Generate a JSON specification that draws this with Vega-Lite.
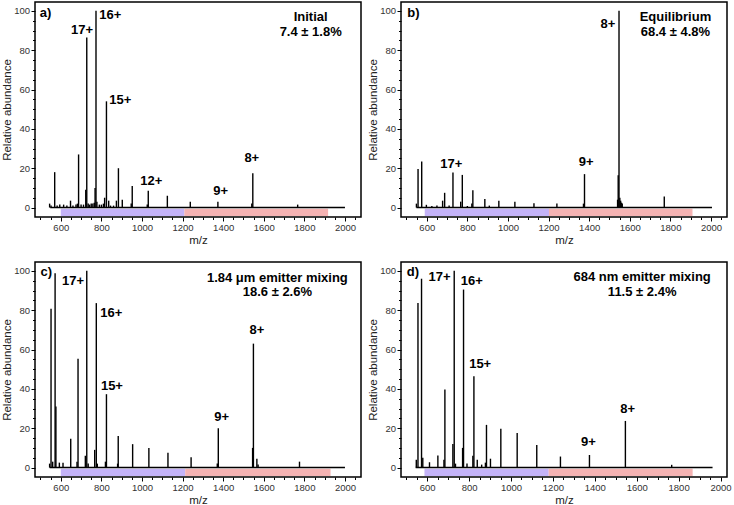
{
  "$schema": "https://vega.github.io/schema/vega-lite/v6.json",
  "padding": {"left": 0, "top": 1, "right": 0, "bottom": 0},
  "config": {
    "view": {"stroke": "black", "strokeWidth": 1.5},
    "axis": {"grid": false, "domain": false, "offset": 0, "tickColor": "black", "tickWidth": 1, "labelColor": "#333", "labelFont": "Liberation Sans", "labelFontSize": 9.5, "titleFont": "Liberation Sans", "titleFontSize": 11.5, "titleFontWeight": "normal", "titleColor": "#222", "labelPadding": 1.5},
    "text": {"font": "Liberation Sans", "fontWeight": "bold", "fontSize": 13, "baseline": "middle", "color": "black"}
  },
  "datasets": {
    "peaks": [
      {"panel": "a", "mz": 545, "abundance": 2}, {"panel": "a", "mz": 552, "abundance": 1}, {"panel": "a", "mz": 570, "abundance": 18}, {"panel": "a", "mz": 582, "abundance": 1}, {"panel": "a", "mz": 595, "abundance": 1.5}, {"panel": "a", "mz": 614, "abundance": 1.5}, {"panel": "a", "mz": 630, "abundance": 1}, {"panel": "a", "mz": 648, "abundance": 3.5}, {"panel": "a", "mz": 660, "abundance": 1}, {"panel": "a", "mz": 675, "abundance": 1.5}, {"panel": "a", "mz": 682, "abundance": 2}, {"panel": "a", "mz": 687.7, "abundance": 27}, {"panel": "a", "mz": 700, "abundance": 1.5}, {"panel": "a", "mz": 712, "abundance": 1.5}, {"panel": "a", "mz": 723, "abundance": 9}, {"panel": "a", "mz": 728, "abundance": 86.5}, {"panel": "a", "mz": 735, "abundance": 2}, {"panel": "a", "mz": 742, "abundance": 1.5}, {"panel": "a", "mz": 750, "abundance": 2}, {"panel": "a", "mz": 758, "abundance": 2}, {"panel": "a", "mz": 765, "abundance": 2.5}, {"panel": "a", "mz": 769, "abundance": 10}, {"panel": "a", "mz": 773.5, "abundance": 100}, {"panel": "a", "mz": 778, "abundance": 3}, {"panel": "a", "mz": 790, "abundance": 1.5}, {"panel": "a", "mz": 800, "abundance": 1.5}, {"panel": "a", "mz": 810, "abundance": 2}, {"panel": "a", "mz": 816, "abundance": 5}, {"panel": "a", "mz": 825, "abundance": 54}, {"panel": "a", "mz": 836, "abundance": 3.5}, {"panel": "a", "mz": 845, "abundance": 1}, {"panel": "a", "mz": 860, "abundance": 1}, {"panel": "a", "mz": 874, "abundance": 3.5}, {"panel": "a", "mz": 884, "abundance": 20}, {"panel": "a", "mz": 903, "abundance": 4}, {"panel": "a", "mz": 947, "abundance": 2}, {"panel": "a", "mz": 952, "abundance": 11}, {"panel": "a", "mz": 1026, "abundance": 1.5}, {"panel": "a", "mz": 1031, "abundance": 8.5}, {"panel": "a", "mz": 1125, "abundance": 6}, {"panel": "a", "mz": 1238, "abundance": 3}, {"panel": "a", "mz": 1374, "abundance": 3}, {"panel": "a", "mz": 1541, "abundance": 2}, {"panel": "a", "mz": 1546, "abundance": 17.5}, {"panel": "a", "mz": 1767, "abundance": 1.5},
      {"panel": "b", "mz": 549, "abundance": 2}, {"panel": "b", "mz": 557, "abundance": 19.6}, {"panel": "b", "mz": 575, "abundance": 23.4}, {"panel": "b", "mz": 598, "abundance": 1.4}, {"panel": "b", "mz": 625, "abundance": 0.8}, {"panel": "b", "mz": 650, "abundance": 1}, {"panel": "b", "mz": 678, "abundance": 3.5}, {"panel": "b", "mz": 688, "abundance": 7.5}, {"panel": "b", "mz": 710, "abundance": 1}, {"panel": "b", "mz": 729, "abundance": 17.8}, {"panel": "b", "mz": 767, "abundance": 3}, {"panel": "b", "mz": 775, "abundance": 16.6}, {"panel": "b", "mz": 800, "abundance": 0.8}, {"panel": "b", "mz": 822, "abundance": 2}, {"panel": "b", "mz": 827, "abundance": 8.8}, {"panel": "b", "mz": 886, "abundance": 4.4}, {"panel": "b", "mz": 908, "abundance": 1}, {"panel": "b", "mz": 955, "abundance": 3.5}, {"panel": "b", "mz": 1034, "abundance": 3}, {"panel": "b", "mz": 1128, "abundance": 2.2}, {"panel": "b", "mz": 1241, "abundance": 2}, {"panel": "b", "mz": 1372, "abundance": 2}, {"panel": "b", "mz": 1377, "abundance": 17}, {"panel": "b", "mz": 1540, "abundance": 4}, {"panel": "b", "mz": 1543, "abundance": 16.4}, {"panel": "b", "mz": 1547, "abundance": 100}, {"panel": "b", "mz": 1551, "abundance": 5}, {"panel": "b", "mz": 1555, "abundance": 3.5}, {"panel": "b", "mz": 1559, "abundance": 2.5}, {"panel": "b", "mz": 1563, "abundance": 2}, {"panel": "b", "mz": 1770, "abundance": 5.6},
      {"panel": "c", "mz": 545, "abundance": 2}, {"panel": "c", "mz": 552, "abundance": 80.7}, {"panel": "c", "mz": 560, "abundance": 3}, {"panel": "c", "mz": 572, "abundance": 98.8}, {"panel": "c", "mz": 576, "abundance": 31}, {"panel": "c", "mz": 593, "abundance": 2.5}, {"panel": "c", "mz": 611, "abundance": 2.5}, {"panel": "c", "mz": 649, "abundance": 14.6}, {"panel": "c", "mz": 680, "abundance": 3}, {"panel": "c", "mz": 685, "abundance": 55.3}, {"panel": "c", "mz": 721, "abundance": 6}, {"panel": "c", "mz": 728, "abundance": 100}, {"panel": "c", "mz": 735, "abundance": 2}, {"panel": "c", "mz": 767, "abundance": 9}, {"panel": "c", "mz": 775, "abundance": 83.6}, {"panel": "c", "mz": 780, "abundance": 2}, {"panel": "c", "mz": 820, "abundance": 3}, {"panel": "c", "mz": 825, "abundance": 37.3}, {"panel": "c", "mz": 880, "abundance": 2}, {"panel": "c", "mz": 883, "abundance": 16}, {"panel": "c", "mz": 954, "abundance": 11.9}, {"panel": "c", "mz": 1034, "abundance": 10}, {"panel": "c", "mz": 1128, "abundance": 7.5}, {"panel": "c", "mz": 1242, "abundance": 5.3}, {"panel": "c", "mz": 1371, "abundance": 2}, {"panel": "c", "mz": 1376, "abundance": 20}, {"panel": "c", "mz": 1545, "abundance": 10}, {"panel": "c", "mz": 1549, "abundance": 63}, {"panel": "c", "mz": 1566, "abundance": 4.5}, {"panel": "c", "mz": 1572, "abundance": 1.5}, {"panel": "c", "mz": 1776, "abundance": 3},
      {"panel": "d", "mz": 548, "abundance": 4}, {"panel": "d", "mz": 556, "abundance": 83.7}, {"panel": "d", "mz": 573, "abundance": 96}, {"panel": "d", "mz": 579, "abundance": 5}, {"panel": "d", "mz": 611, "abundance": 2.7}, {"panel": "d", "mz": 651, "abundance": 6.1}, {"panel": "d", "mz": 680, "abundance": 4}, {"panel": "d", "mz": 684.5, "abundance": 39.7}, {"panel": "d", "mz": 722.6, "abundance": 12}, {"panel": "d", "mz": 729, "abundance": 100}, {"panel": "d", "mz": 735, "abundance": 2}, {"panel": "d", "mz": 769, "abundance": 10}, {"panel": "d", "mz": 773.5, "abundance": 90.5}, {"panel": "d", "mz": 790, "abundance": 2}, {"panel": "d", "mz": 818, "abundance": 6}, {"panel": "d", "mz": 823, "abundance": 46.4}, {"panel": "d", "mz": 839, "abundance": 4}, {"panel": "d", "mz": 860, "abundance": 1.5}, {"panel": "d", "mz": 878, "abundance": 2.5}, {"panel": "d", "mz": 883, "abundance": 21.7}, {"panel": "d", "mz": 902, "abundance": 4.5}, {"panel": "d", "mz": 951.5, "abundance": 19.7}, {"panel": "d", "mz": 1029.5, "abundance": 17.6}, {"panel": "d", "mz": 1123, "abundance": 11.5}, {"panel": "d", "mz": 1236, "abundance": 5.6}, {"panel": "d", "mz": 1374.5, "abundance": 6.4}, {"panel": "d", "mz": 1546, "abundance": 23.7}, {"panel": "d", "mz": 1767, "abundance": 1.4}
    ],
    "bands": [
      {"panel": "a", "region": "lower", "start": 600, "end": 1209}, {"panel": "a", "region": "upper", "start": 1209, "end": 1917},
      {"panel": "b", "region": "lower", "start": 590, "end": 1202}, {"panel": "b", "region": "upper", "start": 1202, "end": 1909},
      {"panel": "c", "region": "lower", "start": 600, "end": 1213}, {"panel": "c", "region": "upper", "start": 1213, "end": 1929},
      {"panel": "d", "region": "lower", "start": 587, "end": 1180}, {"panel": "d", "region": "upper", "start": 1180, "end": 1867}
    ],
    "baseline": [
      {"panel": "a", "start": 548, "end": 2000}, {"panel": "b", "start": 549, "end": 2005}, {"panel": "c", "start": 545, "end": 2000}, {"panel": "d", "start": 545, "end": 1962}
    ],
    "labels": [
      {"panel": "a", "mz": 704.6, "y": 90.5, "label": "17+"}, {"panel": "a", "mz": 844, "y": 98, "label": "16+"}, {"panel": "a", "mz": 893, "y": 54.5, "label": "15+"}, {"panel": "a", "mz": 1046, "y": 13.4, "label": "12+"}, {"panel": "a", "mz": 1388, "y": 8.5, "label": "9+"}, {"panel": "a", "mz": 1541, "y": 25, "label": "8+"}, {"panel": "a", "mz": 1831, "y": 96.8, "label": "Initial"}, {"panel": "a", "mz": 1831, "y": 89, "label": "7.4 ± 1.8%"},
      {"panel": "b", "mz": 721, "y": 22.3, "label": "17+"}, {"panel": "b", "mz": 1385, "y": 23, "label": "9+"}, {"panel": "b", "mz": 1492, "y": 93.4, "label": "8+"}, {"panel": "b", "mz": 1825, "y": 96.8, "label": "Equilibrium"}, {"panel": "b", "mz": 1825, "y": 89.2, "label": "68.4 ± 4.8%"},
      {"panel": "c", "mz": 660, "y": 95, "label": "17+"}, {"panel": "c", "mz": 849, "y": 78.5, "label": "16+"}, {"panel": "c", "mz": 852, "y": 41.7, "label": "15+"}, {"panel": "c", "mz": 1393, "y": 25.6, "label": "9+"}, {"panel": "c", "mz": 1566, "y": 69.7, "label": "8+"}, {"panel": "c", "mz": 1667, "y": 96.3, "label": "1.84 μm emitter mixing"}, {"panel": "c", "mz": 1667, "y": 89.2, "label": "18.6 ± 2.6%"},
      {"panel": "d", "mz": 659, "y": 96.8, "label": "17+"}, {"panel": "d", "mz": 813, "y": 95, "label": "16+"}, {"panel": "d", "mz": 853, "y": 52.7, "label": "15+"}, {"panel": "d", "mz": 1370, "y": 12.9, "label": "9+"}, {"panel": "d", "mz": 1557, "y": 30, "label": "8+"}, {"panel": "d", "mz": 1626, "y": 96.8, "label": "684 nm emitter mixing"}, {"panel": "d", "mz": 1626, "y": 89.5, "label": "11.5 ± 2.4%"}
    ],
    "letters": [
      {"panel": "a", "mz": 496, "y": 99, "label": "a)"}, {"panel": "b", "mz": 504, "y": 99, "label": "b)"}, {"panel": "c", "mz": 500, "y": 99.3, "label": "c)"}, {"panel": "d", "mz": 503, "y": 99.3, "label": "d)"}
    ]
  },
  "vconcat": [
    {"hconcat": [
      {"width": 326, "height": 215, "resolve": {"axis": {"x": "independent", "y": "independent"}}, "layer": [
        {"data": {"name": "peaks"}, "transform": [{"filter": "datum.panel === 'a'"}], "mark": {"type": "rule", "color": "black", "strokeWidth": 1.4}, "encoding": {
          "x": {"field": "mz", "type": "quantitative", "scale": {"domain": [473, 2079], "nice": false, "zero": false}, "axis": {"orient": "bottom", "values": [600,800,1000,1200,1400,1600,1800,2000], "format": "d", "tickSize": 4, "title": "m/z", "titlePadding": 2}},
          "y": {"field": "abundance", "type": "quantitative", "scale": {"domain": [-4.8, 104.5], "nice": false, "zero": false}, "axis": {"orient": "left", "values": [0,20,40,60,80,100], "tickSize": 4, "title": "Relative abundance", "titlePadding": 1}},
          "y2": {"datum": 0}}},
        {"data": {"name": "bands"}, "transform": [{"filter": "datum.panel === 'a'"}], "mark": {"type": "rect"}, "encoding": {
          "x": {"field": "start", "type": "quantitative", "scale": {"domain": [473, 2079], "nice": false, "zero": false}, "axis": {"orient": "bottom", "values": [500,550,650,700,750,850,900,950,1050,1100,1150,1250,1300,1350,1450,1500,1550,1650,1700,1750,1850,1900,1950,2050], "labels": false, "tickSize": 2.5, "title": null}},
          "x2": {"field": "end"},
          "y": {"datum": -0.6, "type": "quantitative", "scale": {"domain": [-4.8, 104.5], "nice": false, "zero": false}, "axis": {"orient": "left", "values": [5,10,15,25,30,35,45,50,55,65,70,75,85,90,95], "labels": false, "tickSize": 2.5, "title": null}},
          "y2": {"datum": -4.3},
          "color": {"field": "region", "type": "nominal", "scale": {"domain": ["lower", "upper"], "range": ["#c4b3f8", "#f5b3b3"]}, "legend": null}}},
        {"data": {"name": "baseline"}, "transform": [{"filter": "datum.panel === 'a'"}], "mark": {"type": "rule", "color": "black", "strokeWidth": 1.5}, "encoding": {
          "x": {"field": "start", "type": "quantitative", "scale": {"domain": [473, 2079], "nice": false, "zero": false}, "axis": null}, "x2": {"field": "end"},
          "y": {"datum": 0, "type": "quantitative", "scale": {"domain": [-4.8, 104.5], "nice": false, "zero": false}, "axis": null}}},
        {"data": {"name": "labels"}, "transform": [{"filter": "datum.panel === 'a'"}], "mark": {"type": "text"}, "encoding": {
          "x": {"field": "mz", "type": "quantitative", "scale": {"domain": [473, 2079], "nice": false, "zero": false}, "axis": null},
          "y": {"field": "y", "type": "quantitative", "scale": {"domain": [-4.8, 104.5], "nice": false, "zero": false}, "axis": null},
          "text": {"field": "label"}}},
        {"data": {"name": "letters"}, "transform": [{"filter": "datum.panel === 'a'"}], "mark": {"type": "text", "align": "left"}, "encoding": {
          "x": {"field": "mz", "type": "quantitative", "scale": {"domain": [473, 2079], "nice": false, "zero": false}, "axis": null},
          "y": {"field": "y", "type": "quantitative", "scale": {"domain": [-4.8, 104.5], "nice": false, "zero": false}, "axis": null},
          "text": {"field": "label"}}}
      ]},
      {"width": 326, "height": 215, "resolve": {"axis": {"x": "independent", "y": "independent"}}, "layer": [
        {"data": {"name": "peaks"}, "transform": [{"filter": "datum.panel === 'b'"}], "mark": {"type": "rule", "color": "black", "strokeWidth": 1.4}, "encoding": {
          "x": {"field": "mz", "type": "quantitative", "scale": {"domain": [473, 2079], "nice": false, "zero": false}, "axis": {"orient": "bottom", "values": [600,800,1000,1200,1400,1600,1800,2000], "format": "d", "tickSize": 4, "title": "m/z", "titlePadding": 2}},
          "y": {"field": "abundance", "type": "quantitative", "scale": {"domain": [-4.8, 104.5], "nice": false, "zero": false}, "axis": {"orient": "left", "values": [0,20,40,60,80,100], "tickSize": 4, "title": "Relative abundance", "titlePadding": 1}},
          "y2": {"datum": 0}}},
        {"data": {"name": "bands"}, "transform": [{"filter": "datum.panel === 'b'"}], "mark": {"type": "rect"}, "encoding": {
          "x": {"field": "start", "type": "quantitative", "scale": {"domain": [473, 2079], "nice": false, "zero": false}, "axis": {"orient": "bottom", "values": [500,550,650,700,750,850,900,950,1050,1100,1150,1250,1300,1350,1450,1500,1550,1650,1700,1750,1850,1900,1950,2050], "labels": false, "tickSize": 2.5, "title": null}},
          "x2": {"field": "end"},
          "y": {"datum": -0.6, "type": "quantitative", "scale": {"domain": [-4.8, 104.5], "nice": false, "zero": false}, "axis": {"orient": "left", "values": [5,10,15,25,30,35,45,50,55,65,70,75,85,90,95], "labels": false, "tickSize": 2.5, "title": null}},
          "y2": {"datum": -4.3},
          "color": {"field": "region", "type": "nominal", "scale": {"domain": ["lower", "upper"], "range": ["#c4b3f8", "#f5b3b3"]}, "legend": null}}},
        {"data": {"name": "baseline"}, "transform": [{"filter": "datum.panel === 'b'"}], "mark": {"type": "rule", "color": "black", "strokeWidth": 1.5}, "encoding": {
          "x": {"field": "start", "type": "quantitative", "scale": {"domain": [473, 2079], "nice": false, "zero": false}, "axis": null}, "x2": {"field": "end"},
          "y": {"datum": 0, "type": "quantitative", "scale": {"domain": [-4.8, 104.5], "nice": false, "zero": false}, "axis": null}}},
        {"data": {"name": "labels"}, "transform": [{"filter": "datum.panel === 'b'"}], "mark": {"type": "text"}, "encoding": {
          "x": {"field": "mz", "type": "quantitative", "scale": {"domain": [473, 2079], "nice": false, "zero": false}, "axis": null},
          "y": {"field": "y", "type": "quantitative", "scale": {"domain": [-4.8, 104.5], "nice": false, "zero": false}, "axis": null},
          "text": {"field": "label"}}},
        {"data": {"name": "letters"}, "transform": [{"filter": "datum.panel === 'b'"}], "mark": {"type": "text", "align": "left"}, "encoding": {
          "x": {"field": "mz", "type": "quantitative", "scale": {"domain": [473, 2079], "nice": false, "zero": false}, "axis": null},
          "y": {"field": "y", "type": "quantitative", "scale": {"domain": [-4.8, 104.5], "nice": false, "zero": false}, "axis": null},
          "text": {"field": "label"}}}
      ]}
    ], "spacing": 4},
    {"hconcat": [
      {"width": 326, "height": 215, "resolve": {"axis": {"x": "independent", "y": "independent"}}, "layer": [
        {"data": {"name": "peaks"}, "transform": [{"filter": "datum.panel === 'c'"}], "mark": {"type": "rule", "color": "black", "strokeWidth": 1.4}, "encoding": {
          "x": {"field": "mz", "type": "quantitative", "scale": {"domain": [473, 2079], "nice": false, "zero": false}, "axis": {"orient": "bottom", "values": [600,800,1000,1200,1400,1600,1800,2000], "format": "d", "tickSize": 4, "title": "m/z", "titlePadding": 2}},
          "y": {"field": "abundance", "type": "quantitative", "scale": {"domain": [-4.8, 104.5], "nice": false, "zero": false}, "axis": {"orient": "left", "values": [0,20,40,60,80,100], "tickSize": 4, "title": "Relative abundance", "titlePadding": 1}},
          "y2": {"datum": 0}}},
        {"data": {"name": "bands"}, "transform": [{"filter": "datum.panel === 'c'"}], "mark": {"type": "rect"}, "encoding": {
          "x": {"field": "start", "type": "quantitative", "scale": {"domain": [473, 2079], "nice": false, "zero": false}, "axis": {"orient": "bottom", "values": [500,550,650,700,750,850,900,950,1050,1100,1150,1250,1300,1350,1450,1500,1550,1650,1700,1750,1850,1900,1950,2050], "labels": false, "tickSize": 2.5, "title": null}},
          "x2": {"field": "end"},
          "y": {"datum": -0.6, "type": "quantitative", "scale": {"domain": [-4.8, 104.5], "nice": false, "zero": false}, "axis": {"orient": "left", "values": [5,10,15,25,30,35,45,50,55,65,70,75,85,90,95], "labels": false, "tickSize": 2.5, "title": null}},
          "y2": {"datum": -4.3},
          "color": {"field": "region", "type": "nominal", "scale": {"domain": ["lower", "upper"], "range": ["#c4b3f8", "#f5b3b3"]}, "legend": null}}},
        {"data": {"name": "baseline"}, "transform": [{"filter": "datum.panel === 'c'"}], "mark": {"type": "rule", "color": "black", "strokeWidth": 1.5}, "encoding": {
          "x": {"field": "start", "type": "quantitative", "scale": {"domain": [473, 2079], "nice": false, "zero": false}, "axis": null}, "x2": {"field": "end"},
          "y": {"datum": 0, "type": "quantitative", "scale": {"domain": [-4.8, 104.5], "nice": false, "zero": false}, "axis": null}}},
        {"data": {"name": "labels"}, "transform": [{"filter": "datum.panel === 'c'"}], "mark": {"type": "text"}, "encoding": {
          "x": {"field": "mz", "type": "quantitative", "scale": {"domain": [473, 2079], "nice": false, "zero": false}, "axis": null},
          "y": {"field": "y", "type": "quantitative", "scale": {"domain": [-4.8, 104.5], "nice": false, "zero": false}, "axis": null},
          "text": {"field": "label"}}},
        {"data": {"name": "letters"}, "transform": [{"filter": "datum.panel === 'c'"}], "mark": {"type": "text", "align": "left"}, "encoding": {
          "x": {"field": "mz", "type": "quantitative", "scale": {"domain": [473, 2079], "nice": false, "zero": false}, "axis": null},
          "y": {"field": "y", "type": "quantitative", "scale": {"domain": [-4.8, 104.5], "nice": false, "zero": false}, "axis": null},
          "text": {"field": "label"}}}
      ]},
      {"width": 326, "height": 215, "resolve": {"axis": {"x": "independent", "y": "independent"}}, "layer": [
        {"data": {"name": "peaks"}, "transform": [{"filter": "datum.panel === 'd'"}], "mark": {"type": "rule", "color": "black", "strokeWidth": 1.4}, "encoding": {
          "x": {"field": "mz", "type": "quantitative", "scale": {"domain": [475, 2031], "nice": false, "zero": false}, "axis": {"orient": "bottom", "values": [600,800,1000,1200,1400,1600,1800,2000], "format": "d", "tickSize": 4, "title": "m/z", "titlePadding": 2}},
          "y": {"field": "abundance", "type": "quantitative", "scale": {"domain": [-4.8, 104.5], "nice": false, "zero": false}, "axis": {"orient": "left", "values": [0,20,40,60,80,100], "tickSize": 4, "title": "Relative abundance", "titlePadding": 1}},
          "y2": {"datum": 0}}},
        {"data": {"name": "bands"}, "transform": [{"filter": "datum.panel === 'd'"}], "mark": {"type": "rect"}, "encoding": {
          "x": {"field": "start", "type": "quantitative", "scale": {"domain": [475, 2031], "nice": false, "zero": false}, "axis": {"orient": "bottom", "values": [500,550,650,700,750,850,900,950,1050,1100,1150,1250,1300,1350,1450,1500,1550,1650,1700,1750,1850,1900,1950], "labels": false, "tickSize": 2.5, "title": null}},
          "x2": {"field": "end"},
          "y": {"datum": -0.6, "type": "quantitative", "scale": {"domain": [-4.8, 104.5], "nice": false, "zero": false}, "axis": {"orient": "left", "values": [5,10,15,25,30,35,45,50,55,65,70,75,85,90,95], "labels": false, "tickSize": 2.5, "title": null}},
          "y2": {"datum": -4.3},
          "color": {"field": "region", "type": "nominal", "scale": {"domain": ["lower", "upper"], "range": ["#c4b3f8", "#f5b3b3"]}, "legend": null}}},
        {"data": {"name": "baseline"}, "transform": [{"filter": "datum.panel === 'd'"}], "mark": {"type": "rule", "color": "black", "strokeWidth": 1.5}, "encoding": {
          "x": {"field": "start", "type": "quantitative", "scale": {"domain": [475, 2031], "nice": false, "zero": false}, "axis": null}, "x2": {"field": "end"},
          "y": {"datum": 0, "type": "quantitative", "scale": {"domain": [-4.8, 104.5], "nice": false, "zero": false}, "axis": null}}},
        {"data": {"name": "labels"}, "transform": [{"filter": "datum.panel === 'd'"}], "mark": {"type": "text"}, "encoding": {
          "x": {"field": "mz", "type": "quantitative", "scale": {"domain": [475, 2031], "nice": false, "zero": false}, "axis": null},
          "y": {"field": "y", "type": "quantitative", "scale": {"domain": [-4.8, 104.5], "nice": false, "zero": false}, "axis": null},
          "text": {"field": "label"}}},
        {"data": {"name": "letters"}, "transform": [{"filter": "datum.panel === 'd'"}], "mark": {"type": "text", "align": "left"}, "encoding": {
          "x": {"field": "mz", "type": "quantitative", "scale": {"domain": [475, 2031], "nice": false, "zero": false}, "axis": null},
          "y": {"field": "y", "type": "quantitative", "scale": {"domain": [-4.8, 104.5], "nice": false, "zero": false}, "axis": null},
          "text": {"field": "label"}}}
      ]}
    ], "spacing": 4}
  ],
  "spacing": 14
}
